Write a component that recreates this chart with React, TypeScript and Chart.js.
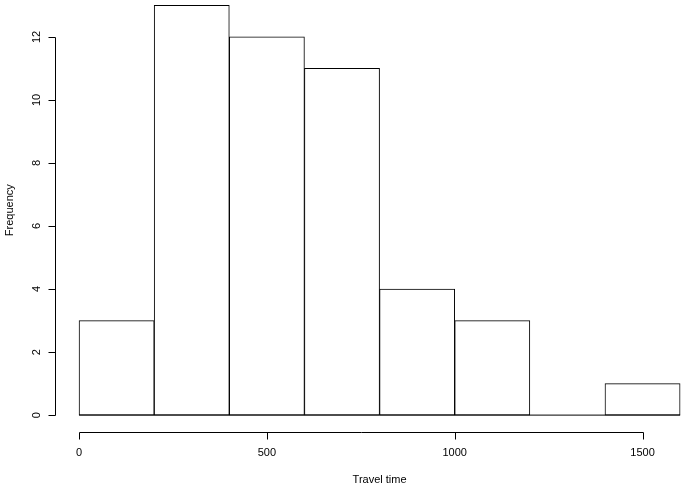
import React, { useEffect, useRef } from "react";
import { Chart, registerables } from "chart.js";

Chart.register(...registerables);

const breaks = [0, 200, 400, 600, 800, 1000, 1200, 1400, 1600];
const counts = [3, 13, 12, 11, 4, 3, 0, 1];
const xTicks = [0, 500, 1000, 1500];
const yTicks = [0, 2, 4, 6, 8, 10, 12];
const xTitle = "Travel time";
const yTitle = "Frequency";

const FONT = '11px "Liberation Sans", Arial, Helvetica, sans-serif';

const rAxesPlugin = {
  id: "rAxes",
  afterDraw(chart: any) {
    const { ctx, chartArea, scales } = chart;
    const xs = scales.x;
    const ys = scales.y;
    ctx.save();
    ctx.strokeStyle = "#000";
    ctx.fillStyle = "#000";
    ctx.lineWidth = 1;
    ctx.font = FONT;

    // y axis
    const ax = Math.round(chartArea.left) + 0.5;
    const yTop = ys.getPixelForValue(yTicks[yTicks.length - 1]);
    const yBot = ys.getPixelForValue(yTicks[0]);
    ctx.beginPath();
    ctx.moveTo(ax, Math.round(yBot) + 0.5);
    ctx.lineTo(ax, Math.round(yTop) + 0.5);
    yTicks.forEach((t) => {
      const py = Math.round(ys.getPixelForValue(t)) + 0.5;
      ctx.moveTo(ax, py);
      ctx.lineTo(ax - 7, py);
    });
    ctx.stroke();
    ctx.textAlign = "center";
    ctx.textBaseline = "middle";
    yTicks.forEach((t) => {
      const py = ys.getPixelForValue(t);
      ctx.save();
      ctx.translate(ax - 19, py);
      ctx.rotate(-Math.PI / 2);
      ctx.fillText(String(t), 0, 0);
      ctx.restore();
    });

    // x axis
    const ay = Math.round(chartArea.bottom) + 0.5;
    const xL = xs.getPixelForValue(xTicks[0]);
    const xR = xs.getPixelForValue(xTicks[xTicks.length - 1]);
    ctx.beginPath();
    ctx.moveTo(Math.round(xL) + 0.5, ay);
    ctx.lineTo(Math.round(xR) + 0.5, ay);
    xTicks.forEach((t) => {
      const px = Math.round(xs.getPixelForValue(t)) + 0.5;
      ctx.moveTo(px, ay);
      ctx.lineTo(px, ay + 7);
    });
    ctx.stroke();
    xTicks.forEach((t) => {
      ctx.fillText(String(t), xs.getPixelForValue(t), ay + 20);
    });

    // titles
    const midX = xs.getPixelForValue((breaks[0] + breaks[breaks.length - 1]) / 2);
    ctx.fillText(xTitle, midX, ay + 47);
    const midY = ys.getPixelForValue(Math.max(...counts) / 2);
    ctx.save();
    ctx.translate(10, midY);
    ctx.rotate(-Math.PI / 2);
    ctx.fillText(yTitle, 0, 0);
    ctx.restore();
    ctx.restore();
  },
};

export default function App() {
  const ref = useRef<HTMLCanvasElement | null>(null);

  useEffect(() => {
    document.body.style.margin = "0";
    const canvas = ref.current;
    if (!canvas) return;
    const bars = counts.map((c, i) => ({ x: (breaks[i] + breaks[i + 1]) / 2, y: c }));
    const baseline = [
      { x: breaks[0], y: 0 },
      { x: breaks[breaks.length - 1], y: 0 },
    ];
    const chart = new Chart(canvas, {
      type: "bar",
      data: {
        datasets: [
          {
            type: "bar",
            data: bars as any,
            backgroundColor: "#ffffff",
            borderColor: "#000000",
            borderWidth: 1,
            borderSkipped: false,
            barPercentage: 1,
            categoryPercentage: 1,
            order: 2,
          },
          {
            type: "line",
            data: baseline as any,
            borderColor: "#000000",
            borderWidth: 1,
            pointRadius: 0,
            order: 1,
          } as any,
        ],
      },
      options: {
        animation: false,
        responsive: false,
        maintainAspectRatio: false,
        devicePixelRatio: 1,
        layout: { padding: { left: 55, right: 0, top: 0, bottom: 57.5 } },
        plugins: { legend: { display: false }, tooltip: { enabled: false } },
        scales: {
          x: { type: "linear", display: false, offset: false, min: -64, max: 1613 },
          y: { type: "linear", display: false, min: -0.52, max: 13.17 },
        },
      },
      plugins: [rAxesPlugin],
    });
    return () => chart.destroy();
  }, []);

  return (
    <div style={{ width: 685, height: 489, background: "#fff" }}>
      <canvas ref={ref} width={685} height={489} style={{ display: "block" }} />
    </div>
  );
}
